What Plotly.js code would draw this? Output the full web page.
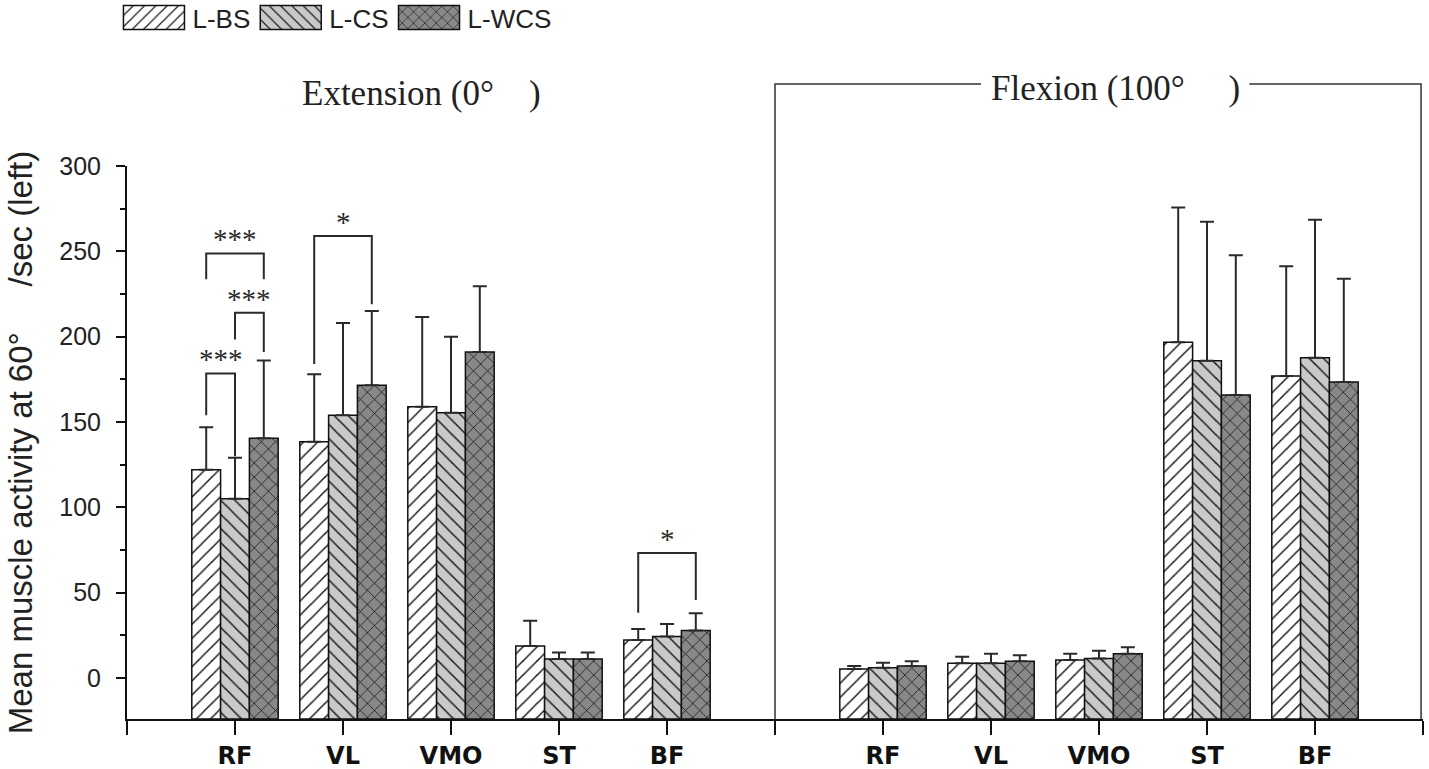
<!DOCTYPE html>
<html><head><meta charset="utf-8">
<script src="https://cdn.plot.ly/plotly-3.0.1.min.js"></script>
<style>body{margin:0;background:#fff}#chart{width:1429px;height:769px}</style>
</head><body><div id="chart"></div>
<script>
// ---- data ----
const categories = ['RF', 'VL', 'VMO', 'ST', 'BF'];
const seriesNames = ['L-BS', 'L-CS', 'L-WCS'];
const panelTitles = ['Extension (0°\u00a0\u00a0\u00a0\u00a0)', 'Flexion (100°\u00a0\u00a0\u00a0\u00a0\u00a0)'];

// Extension (0°): means and SD (upper error)
const extBS  = [122, 138.5, 159, 18.8, 22.3];
const extCS  = [105, 154, 155.5, 11.2, 24.3];
const extWCS = [140.5, 171.5, 191, 11.2, 27.8];
const extBSsd  = [25, 39.5, 52.5, 14.7, 6.5];
const extCSsd  = [24, 54, 44.5, 3.8, 7.4];
const extWCSsd = [45.5, 43.5, 38.5, 3.8, 10.2];

// Flexion (100°)
const flexBS  = [5.3, 8.6, 10.6, 196.7, 176.9];
const flexCS  = [6, 8.6, 11.5, 185.9, 187.7];
const flexWCS = [7, 9.8, 14.3, 165.8, 173.4];
const flexBSsd  = [1.7, 3.9, 3.7, 79, 64.3];
const flexCSsd  = [3, 5.7, 4.5, 81.4, 80.8];
const flexWCSsd = [2.8, 3.5, 3.7, 81.9, 60.5];

// significance brackets (extension panel): category index, series a, series b,
// bracket level, leg end under a, leg end under b, label
const sigCat   = [0, 0, 0, 1, 4];
const sigA     = [0, 1, 0, 0, 0];
const sigB     = [1, 2, 2, 2, 2];
const sigLevel = [178.5, 214, 248.8, 259, 73.2];
const sigEndA  = [154, 198.4, 233.6, 184, 38.3];
const sigEndB  = [130, 191, 233.6, 219, 45.7];
const sigText  = ['***', '***', '***', '*', '*'];

// ---- layout helpers ----
const Y_MIN = -24, Y_MAX = 300;
const extX = categories.map((c, i) => i + 1);
const flexX = categories.map((c, i) => i + 7);
const xAll = extX.concat(flexX);
const BAR_W = 0.8 / 3;

const means = [extBS.concat(flexBS), extCS.concat(flexCS), extWCS.concat(flexWCS)];
const sds = [extBSsd.concat(flexBSsd), extCSsd.concat(flexCSsd), extWCSsd.concat(flexWCSsd)];
const styles = [
  {bg: '#ffffff', fg: '#1a1a1a', shape: '/'},
  {bg: '#c9c9c9', fg: '#1a1a1a', shape: '\\'},
  {bg: '#888888', fg: '#151515', shape: 'x'}
];

const data = seriesNames.map((name, s) => ({
  type: 'bar',
  name: name,
  x: xAll,
  y: means[s].map(v => v - Y_MIN),
  base: means[s].map(() => Y_MIN),
  marker: {
    color: styles[s].bg,
    line: {color: '#111', width: 1.5},
    pattern: {shape: styles[s].shape, bgcolor: styles[s].bg, fgcolor: styles[s].fg, size: 10, solidity: 0.15, fillmode: 'replace'}
  },
  error_y: {type: 'data', symmetric: false, array: sds[s], arrayminus: sds[s].map(() => 0),
            color: '#2a2a2a', thickness: 2, width: 7},
  hoverinfo: 'skip'
}));

const shapes = [];
const annotations = [];
sigCat.forEach((c, k) => {
  const xa = extX[c] + (sigA[k] - 1) * BAR_W;
  const xb = extX[c] + (sigB[k] - 1) * BAR_W;
  shapes.push({type: 'path', xref: 'x', yref: 'y',
    path: `M${xa},${sigEndA[k]} L${xa},${sigLevel[k]} L${xb},${sigLevel[k]} L${xb},${sigEndB[k]}`,
    line: {color: '#2a2a2a', width: 2}});
  annotations.push({xref: 'x', yref: 'y', x: (xa + xb) / 2, y: sigLevel[k], yanchor: 'bottom', xanchor: 'center',
    yshift: -4, text: sigText[k], showarrow: false,
    font: {family: 'Liberation Serif, Times New Roman, serif', size: 29, color: '#2a2a2a'}});
});

// panel box for flexion and panel titles
const BOX_TOP = 1.1485;
shapes.push({type: 'path', xref: 'paper', yref: 'paper',
  path: `M0.5,0 L0.5,${BOX_TOP} L0.659,${BOX_TOP}`, line: {color: '#333', width: 1.5}});
shapes.push({type: 'path', xref: 'paper', yref: 'paper',
  path: `M0.866,${BOX_TOP} L0.9985,${BOX_TOP} L0.9985,0`, line: {color: '#333', width: 1.5}});
annotations.push({xref: 'paper', yref: 'paper', x: (421.5 - 127) / 1296, y: 1.131, xanchor: 'center', yanchor: 'middle',
  text: panelTitles[0], showarrow: false, font: {family: 'Liberation Serif, Times New Roman, serif', size: 35, color: '#222'}});
annotations.push({xref: 'paper', yref: 'paper', x: (1115 - 127) / 1296, y: 1.1395, xanchor: 'center', yanchor: 'middle',
  text: panelTitles[1], showarrow: false, font: {family: 'Liberation Serif, Times New Roman, serif', size: 35, color: '#222'}});

const tickvals = [], ticktext = [];
for (let v = 0; v <= 12; v++) {
  tickvals.push(v);
  let t = '';
  const ie = extX.indexOf(v), jf = flexX.indexOf(v);
  if (ie >= 0) t = categories[ie];
  if (jf >= 0) t = categories[jf];
  ticktext.push(t);
}

const layout = {
  width: 1429, height: 769,
  margin: {l: 127, r: 6, t: 166, b: 50, autoexpand: false},
  paper_bgcolor: '#fff', plot_bgcolor: '#fff',
  barmode: 'group', bargap: 0.2, bargroupgap: 0,
  showlegend: true,
  legend: {orientation: 'h', x: -0.0066, xanchor: 'left', y: 1.311, yanchor: 'top',
    font: {family: 'Liberation Sans, Arial, sans-serif', size: 26, color: '#222'},
    itemwidth: 64, traceorder: 'normal', bgcolor: 'rgba(0,0,0,0)'},
  xaxis: {range: [0, 12], tickmode: 'array', tickvals: tickvals, ticktext: ticktext,
    ticks: 'outside', ticklen: 14, tickwidth: 2, tickcolor: '#111',
    showline: true, linewidth: 2, linecolor: '#111', showgrid: false, zeroline: false,
    tickfont: {family: 'DejaVu Sans, Verdana, sans-serif', size: 24, color: '#111', weight: 'bold'}},
  yaxis: {range: [Y_MIN, Y_MAX], tickmode: 'linear', tick0: 0, dtick: 50,
    ticks: 'outside', ticklen: 9, tickwidth: 2, tickcolor: '#111',
    minor: {dtick: 25, tick0: 0, ticks: 'outside', ticklen: 5, tickwidth: 2, tickcolor: '#111', showgrid: false},
    showline: true, linewidth: 2, linecolor: '#111', showgrid: false, zeroline: false,
    ticklabelstandoff: 10,
    tickfont: {family: 'Liberation Sans, Arial, sans-serif', size: 25, color: '#222'},
    title: {text: 'Mean muscle activity at 60°\u00a0\u00a0\u00a0\u00a0\u00a0/sec (left)', standoff: 17,
      font: {family: 'Liberation Sans, Arial, sans-serif', size: 33, color: '#222'}}},
  shapes: shapes,
  annotations: annotations
};

Plotly.newPlot('chart', data, layout, {staticPlot: true}).then(gd => {
  gd.querySelectorAll('.legend .legendpoints path').forEach(p => p.setAttribute('d', 'M29,12H-32V-12H29Z'));
});
</script>
</body></html>
